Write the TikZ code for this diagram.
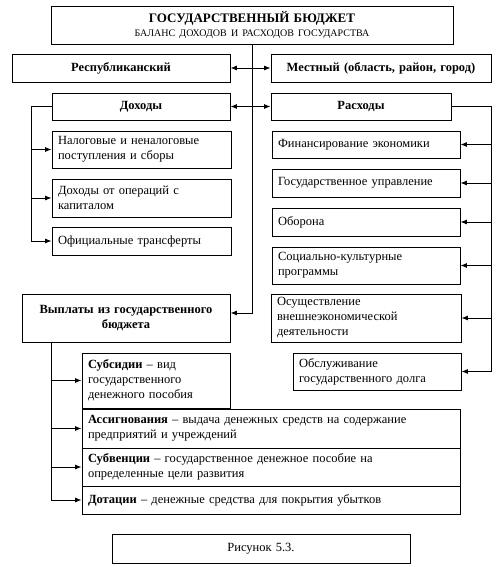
\documentclass[tikz,border=0pt]{standalone}
\usepackage{fontspec}
\setmainfont{Liberation Serif}
\usetikzlibrary{arrows.meta}

\tikzset{
  box/.style={draw,line width=0.9pt,inner xsep=6pt,inner ysep=0pt,align=left,
    font=\fontsize{12.5}{15}\selectfont},
  head/.style={box,align=center,font=\fontsize{12.5}{15}\selectfont\bfseries},
  link/.style={line width=0.8pt,-{Latex[length=6.5pt,width=5pt]}},
  both/.style={line width=0.8pt,{Latex[length=6.5pt,width=5pt]}-{Latex[length=6.5pt,width=5pt]}}
}

\begin{document}
\begin{tikzpicture}[x=1pt,y=-1pt]
  \useasboundingbox (0,0) rectangle (500,567);

  % top
  \node[head,text width=390pt,minimum height=38pt] (budget) at (252,25)
    {{\fontsize{13}{15}\selectfont ГОСУДАРСТВЕННЫЙ БЮДЖЕТ}\\[-1pt]
     {\mdseries\fontsize{10}{12}\selectfont БАЛАНС ДОХОДОВ И РАСХОДОВ ГОСУДАРСТВА}};
  \node[head,text width=206pt,minimum height=28pt] (resp) at (121,68) {Республиканский};
  \node[head,text width=208pt,minimum height=28pt] (mest) at (381,68) {Местный (область, район, город)};
  \node[head,text width=166pt,minimum height=27pt] (dohod) at (141,106.5) {Доходы};
  \node[head,text width=168pt,minimum height=27pt] (rashod) at (361,106.5) {Расходы};

  % income
  \node[box,text width=167pt,minimum height=37pt] (nalog) at (141.5,149.5)
    {Налоговые и неналоговые\\поступления и сборы};
  \node[box,text width=167pt,minimum height=38pt] (kapit) at (141.5,198)
    {Доходы от операций с\\капиталом};
  \node[box,text width=167pt,minimum height=28pt] (transf) at (141.5,241)
    {Официальные трансферты};

  % expenses
  \node[box,text width=176pt,minimum height=27pt] (econ) at (366,144.5) {Финансирование экономики};
  \node[box,text width=176pt,minimum height=28pt] (uprav) at (366,183) {Государственное управление};
  \node[box,text width=176pt,minimum height=28pt] (obor) at (366,222) {Оборона};
  \node[box,text width=176pt,minimum height=37pt] (socprog) at (366,265.5)
    {Социально-культурные\\программы};
  \node[box,text width=178pt,minimum height=48pt] (vnesh) at (366,318)
    {Осуществление\\внешнеэкономической\\деятельности};
  \node[box,text width=156pt,minimum height=37pt] (dolg) at (377,371.5)
    {Обслуживание\\государственного долга};

  % payments
  \node[head,text width=196pt,minimum height=48pt] (vypl) at (126,318)
    {Выплаты из государственного\\бюджета};
  \node[box,text width=136pt,minimum height=55pt] (subs) at (156,380.5)
    {\textbf{Субсидии} -- вид\\государственного\\денежного пособия};
  \node[box,text width=366pt,minimum height=39pt] (assig) at (271,428.5)
    {\textbf{Ассигнования} -- выдача денежных средств на содержание\\предприятий и учреждений};
  \node[box,text width=366pt,minimum height=38pt] (subv) at (271,467)
    {\textbf{Субвенции} -- государственное денежное пособие на\\определенные цели развития};
  \node[box,text width=366pt,minimum height=28pt] (dotac) at (271,500)
    {\textbf{Дотации} -- денежные средства для покрытия убытков};

  \node[box,align=center,text width=286pt,minimum height=29pt] (fig) at (261,548.5) {Рисунок 5.3.};

  % connectors
  \draw[both] (resp) -- (mest);
  \draw[both] (dohod) -- (rashod);
  \draw[link] (budget.south) |- ([yshift=5pt]vypl.east);

  \coordinate (lb) at ([xshift=-20pt]dohod.west);
  \draw[link] (dohod.west) -- (lb) |- (transf.west);
  \foreach \n in {nalog,kapit}
    \draw[link] (lb |- \n.west) -- (\n.west);

  \coordinate (rb) at ([xshift=40pt]rashod.east);
  \draw[link] (rashod.east) -- (rb) |- (dolg.east);
  \foreach \n in {econ,uprav,obor,socprog,vnesh}
    \draw[link] (rb |- \n.east) -- (\n.east);

  \coordinate (bb) at ([xshift=30pt]vypl.south west);
  \draw[link] (bb) |- (dotac.west);
  \foreach \n in {subs,assig,subv}
    \draw[link] (bb |- \n.west) -- (\n.west);
\end{tikzpicture}
\end{document}
